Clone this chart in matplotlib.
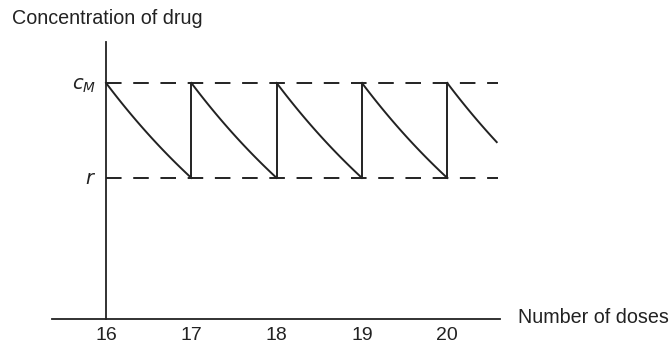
import numpy as np
import matplotlib
matplotlib.use("Agg")
import matplotlib.pyplot as plt

plt.rcParams['font.family'] = ['Liberation Sans', 'DejaVu Sans']

# Data
doses = [16, 17, 18, 19, 20]
dose_labels = ["16", "17", "18", "19", "20"]
c_max = 1.0      # c_M level
c_min = 0.70     # r level (trough)
t_end = 20.58    # last observed time
y_floor = 0.255  # level where the dose axis sits
y_top = 1.13     # top of the concentration axis

fig = plt.figure(figsize=(6.71, 3.47), dpi=100)
ax = fig.add_axes([0, 0, 1, 1])
ax.set_xlim(14.757, 22.623)
ax.set_ylim(0.166, 1.262)

lc = "#222222"
lw = 1.4

# exponential decay segments between doses
starts = doses
ends = doses[1:] + [t_end]
for s, e in zip(starts, ends):
    t = np.linspace(0, e - s, 60)
    ax.plot(s + t, c_max * (c_min / c_max) ** t, color=lc, lw=lw)
# vertical jumps at each new dose
for d in doses[1:]:
    ax.plot([d, d], [c_min, c_max], color=lc, lw=lw)

# dashed reference levels
for lvl in (c_max, c_min):
    ax.plot([16, 20.6], [lvl, lvl], color=lc, lw=lw, dashes=(8, 6))

# axes via spines
for sp in ("top", "right"):
    ax.spines[sp].set_visible(False)
ax.spines['left'].set_position(('data', 16))
ax.spines['left'].set_bounds(y_floor, y_top)
ax.spines['bottom'].set_position(('data', y_floor))
ax.spines['bottom'].set_bounds(15.367, 20.62)
for sp in ("left", "bottom"):
    ax.spines[sp].set_color(lc)
    ax.spines[sp].set_linewidth(1.3)

ax.set_xticks(doses)
ax.set_xticklabels(dose_labels, fontsize=14, color=lc)
ax.tick_params(axis='x', length=0, pad=6)
ax.set_yticks([c_max, c_min])
ax.set_yticklabels([r"$c_M$", r"$r$"], fontsize=14, color=lc)
ax.tick_params(axis='y', length=0, pad=7)

ax.text(20.83, y_floor + 0.004, "Number of doses", fontsize=14.2, color=lc,
        va='center', ha='left')
ax.text(14.898, 1.205, "Concentration of drug", fontsize=14.2, color=lc,
        va='center', ha='left')

fig.savefig("out.png", dpi=100)
